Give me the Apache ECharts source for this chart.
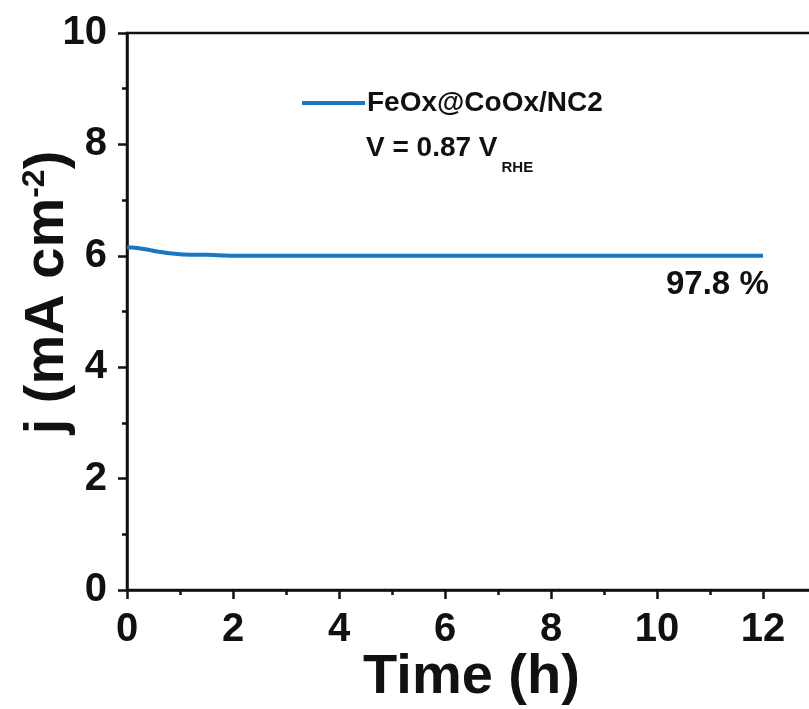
<!DOCTYPE html>
<html><head><meta charset="utf-8">
<script src="https://cdn.jsdelivr.net/npm/echarts@6/dist/echarts.min.js"></script>
<style>html,body{margin:0;padding:0;background:#fff}#c{width:809px;height:709px}</style>
</head><body><div id="c"></div>
<script>
const timeH = [0, 0.1, 0.25, 0.4, 0.55, 0.7, 0.85, 1.0, 1.25, 1.5, 1.75, 2.0, 3, 4, 5, 6, 7, 8, 9, 10, 11, 12];
const currentJ = [6.15, 6.15, 6.13, 6.11, 6.08, 6.06, 6.04, 6.03, 6.02, 6.02, 6.01, 6.0, 6.0, 6.0, 6.0, 6.0, 6.0, 6.0, 6.0, 6.0, 6.0, 6.0];
const seriesName = 'FeOx@CoOx/NC2';
const xTicks = [0, 2, 4, 6, 8, 10, 12];
const yTicks = [0, 2, 4, 6, 8, 10];

const font = '"Liberation Sans", Arial, sans-serif';
const chart = echarts.init(document.getElementById('c'), null, {renderer: 'canvas'});
chart.setOption({
  animation: false,
  backgroundColor: '#fff',
  grid: {left: 127, right: -7, top: 33, bottom: 119, show: true, borderColor: '#111', borderWidth: 2.5,
    containLabel: false, outerBoundsMode: 'none'},
  xAxis: {
    type: 'value', min: 0, max: 13, interval: 2,
    name: 'Time (h)', nameLocation: 'middle', nameGap: 60, nameMoveOverlap: false,
    nameTextStyle: {fontFamily: font, fontWeight: 'bold', fontSize: 56, color: '#111'},
    axisLine: {show: true, onZero: false, lineStyle: {color: '#111', width: 2.5}},
    axisTick: {show: true, inside: false, length: 9, lineStyle: {color: '#111', width: 2.5}},
    minorTick: {show: true, splitNumber: 2, length: 5, lineStyle: {color: '#111', width: 2.5}},
    splitLine: {show: false},
    axisLabel: {fontFamily: font, fontWeight: 'bold', fontSize: 40, color: '#111', margin: 20,
      formatter: v => xTicks.includes(v) ? String(v) : ''}
  },
  yAxis: {
    type: 'value', min: 0, max: 10, interval: 2,
    name: '{m|j (mA cm}{s|-2}{m|)}', nameLocation: 'middle', nameGap: 50, nameRotate: 90, nameMoveOverlap: false,
    nameTextStyle: {padding: [0, 0, 0, 38], rich: {
      m: {fontFamily: font, fontWeight: 'bold', fontSize: 56, color: '#111'},
      s: {fontFamily: font, fontWeight: 'bold', fontSize: 32, color: '#111', verticalAlign: 'top', padding: [0, 0, 26, 0]}
    }},
    axisLine: {show: true, lineStyle: {color: '#111', width: 2.5}},
    axisTick: {show: true, inside: false, length: 9, lineStyle: {color: '#111', width: 2.5}},
    minorTick: {show: true, splitNumber: 2, length: 5, lineStyle: {color: '#111', width: 2.5}},
    splitLine: {show: false},
    axisLabel: {fontFamily: font, fontWeight: 'bold', fontSize: 40, color: '#111', margin: 20,
      formatter: v => yTicks.includes(v) ? String(v) : ''}
  },
  legend: {
    show: true, left: 297, top: 84, icon: 'rect', itemWidth: 63, itemHeight: 4, itemGap: 5,
    data: [{name: seriesName}],
    textStyle: {fontFamily: font, fontWeight: 'bold', fontSize: 28, color: '#111', padding: [0, 0, 0, -3]}
  },
  graphic: [
    {type: 'text', left: 366, top: 134, style: {
      rich: {
        a: {fontFamily: font, fontWeight: 'bold', fontSize: 28, fill: '#111'},
        b: {fontFamily: font, fontWeight: 'bold', fontSize: 15, fill: '#111', verticalAlign: 'bottom', padding: [40, 0, 0, 4]}
      },
      text: '{a|V = 0.87 V}{b|RHE}'
    }},
    {type: 'text', left: 666, top: 268, style: {text: '97.8 %', fontFamily: font, fontWeight: 'bold', fontSize: 33, fill: '#111'}}
  ],
  series: [{
    name: seriesName, type: 'line', showSymbol: false, smooth: true,
    lineStyle: {color: '#1a76c0', width: 4},
    itemStyle: {color: '#1a76c0'},
    data: timeH.map((t, i) => [t, currentJ[i]])
  }]
});
</script></body></html>
